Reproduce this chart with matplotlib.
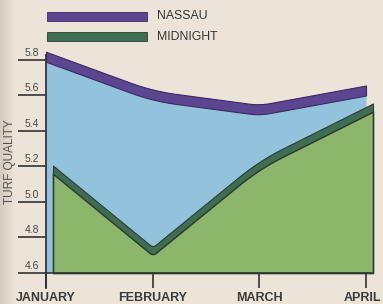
import numpy as np
import matplotlib
matplotlib.use("Agg")
import matplotlib.pyplot as plt
from matplotlib.patches import Rectangle
from matplotlib import transforms

# ---- data ----
months = ["JANUARY", "FEBRUARY", "MARCH", "APRIL"]
nassau = [5.79, 5.57, 5.49, 5.60]
midnight = [5.16, 4.70, 5.19, 5.51]
yticks = [4.6, 4.8, 5.0, 5.2, 5.4, 5.6, 5.8]
ytick_labels = ["4.6", "4.8", "5.0", "5.2", "5.4", "5.6", "5.8"]
series_names = ["NASSAU", "MIDNIGHT"]

# ---- style ----
BG = "#ece4d8"
BLUE = "#93c3dc"
PURPLE = "#5b4690"
PURPLE_EDGE = "#3a2a62"
LGREEN = "#8cb66a"
DGREEN = "#3f6f52"
EDGE = "#2f3a33"
TXT = "#333333"
FONT = "Liberation Sans"

W, H = 383, 304
fig = plt.figure(figsize=(W / 100, H / 100), dpi=100)
fig.patch.set_facecolor(BG)

# subtle page shadow on the left
bg = fig.add_axes([0, 0, 1, 1], zorder=-5)
grad = np.linspace(0, 1, W)
shade = np.clip(grad * W / 14.0, 0, 1)
img = np.ones((2, W, 3))
c0 = np.array([0.83, 0.80, 0.76])
c1 = np.array(matplotlib.colors.to_rgb(BG))
img[:] = c0[None, None, :] * (1 - shade[None, :, None]) + c1[None, None, :] * shade[None, :, None]
bg.imshow(img, aspect="auto", extent=[0, 1, 0, 1])
bg.axis("off")

ax = fig.add_axes([46 / W, (H - 288) / H, (W - 46) / W, (288 - 45) / H])
ax.set_facecolor("none")
px_per_x = (366 - 46) / 3.0
ax.set_xlim(0, (W - 46) / px_per_x)
ax.set_ylim(4.6 - 15 / 177.5, 5.8 + 15 / 177.5)


def rounded(xs, ys, r, n=20):
    """Polyline with interior corners rounded by quadratic Bezier arcs."""
    xs = np.asarray(xs, float)
    ys = np.asarray(ys, float)
    ox, oy = [xs[0]], [ys[0]]
    for i in range(1, len(xs) - 1):
        ri = r[i] if np.ndim(r) else r
        p0 = np.array([xs[i - 1], ys[i - 1]])
        p1 = np.array([xs[i], ys[i]])
        p2 = np.array([xs[i + 1], ys[i + 1]])
        a = p1 + (p0 - p1) * ri
        b = p1 + (p2 - p1) * ri
        t = np.linspace(0, 1, n)[:, None]
        c = (1 - t) ** 2 * a + 2 * (1 - t) * t * p1 + t ** 2 * b
        ox.extend(c[:, 0])
        oy.extend(c[:, 1])
    ox.append(xs[-1])
    oy.append(ys[-1])
    return np.array(ox), np.array(oy)


x = np.arange(len(months), dtype=float)
base = yticks[0]
band_n = 10 / 177.5
band_m = 8 / 177.5
dx = 7 / px_per_x

nas = np.array(nassau)
mid = np.array(midnight)

# Nassau area + top band
xn, yn = rounded(x, nas, [0, 0.22, 0.1, 0])
ax.fill_between(xn, base, yn, color=BLUE, lw=0, zorder=1)
ax.fill_between(xn, yn, yn + band_n, facecolor=PURPLE, edgecolor=PURPLE_EDGE,
                lw=0.8, joinstyle="round", zorder=2)

# Midnight area + top band (end faces set back for depth)
xm0 = x.copy()
xm0[0] += dx
xm0[-1] += dx
xg, yg = rounded(xm0, mid, [0, 0.03, 0.2, 0])
ax.fill_between(xg, base, yg, facecolor=LGREEN, edgecolor=EDGE, lw=1.2, zorder=3)
ax.fill_between(xg, yg, yg + band_m, facecolor=DGREEN, edgecolor=EDGE,
                lw=0.8, zorder=4)

# baseline under the blue strip
ax.hlines(base, x[0], xm0[-1], color=EDGE, lw=1.2, zorder=5)

# spines
for s in ["top", "right"]:
    ax.spines[s].set_visible(False)
ax.spines["bottom"].set_position(("data", base))
ax.spines["bottom"].set_visible(False)
ax.spines["left"].set_color(TXT)
ax.spines["left"].set_linewidth(1.3)
ax.spines["left"].set_bounds(ax.get_ylim()[0], 5.8 + 5 / 177.5)
ax.spines["left"].set_zorder(6)

# y ticks: long lines with labels sitting above them
ax.set_yticks(yticks)
ax.tick_params(axis="y", direction="out", length=28 * 0.72, width=1.2,
               color=TXT, labelleft=False)
lab_tr = transforms.offset_copy(ax.get_yaxis_transform(), fig=fig, x=-7, y=2, units="dots")
for v, t in zip(yticks, ytick_labels):
    ax.text(0, v, t, transform=lab_tr, ha="right", va="bottom",
            fontsize=7.5, color="#484848", family=FONT)

# x ticks
ax.set_xticks(x)
ax.set_xticklabels(months, fontsize=9, fontweight="bold", color="#3a3a3a", family=FONT)
ax.tick_params(axis="x", direction="out", length=15 * 0.72, width=1.2,
               color=TXT, pad=3)
# keep the last label inside the figure
last = ax.get_xticklabels()[-1]
last.set_transform(last.get_transform() + transforms.ScaledTranslation(-4 / 100, 0, fig.dpi_scale_trans))

# y label
fig.text(10 / W, 1 - 162 / H, "TURF QUALITY", rotation=90, ha="center", va="center",
         fontsize=8.5, color="#505050", family=FONT)

# legend
for i, (name, col, ec) in enumerate(zip(series_names, [PURPLE, DGREEN], [PURPLE_EDGE, EDGE])):
    yc = 16 + i * 20.5
    fig.add_artist(Rectangle((47 / W, 1 - (yc + 4.5) / H), 100 / W, 9 / H,
                             transform=fig.transFigure, facecolor=col, edgecolor=ec, lw=0.6))
    fig.text(157 / W, 1 - yc / H, name, ha="left", va="center", fontsize=8.8,
             color="#333333", family=FONT)

fig.savefig("out.png", dpi=100, facecolor=fig.get_facecolor())
